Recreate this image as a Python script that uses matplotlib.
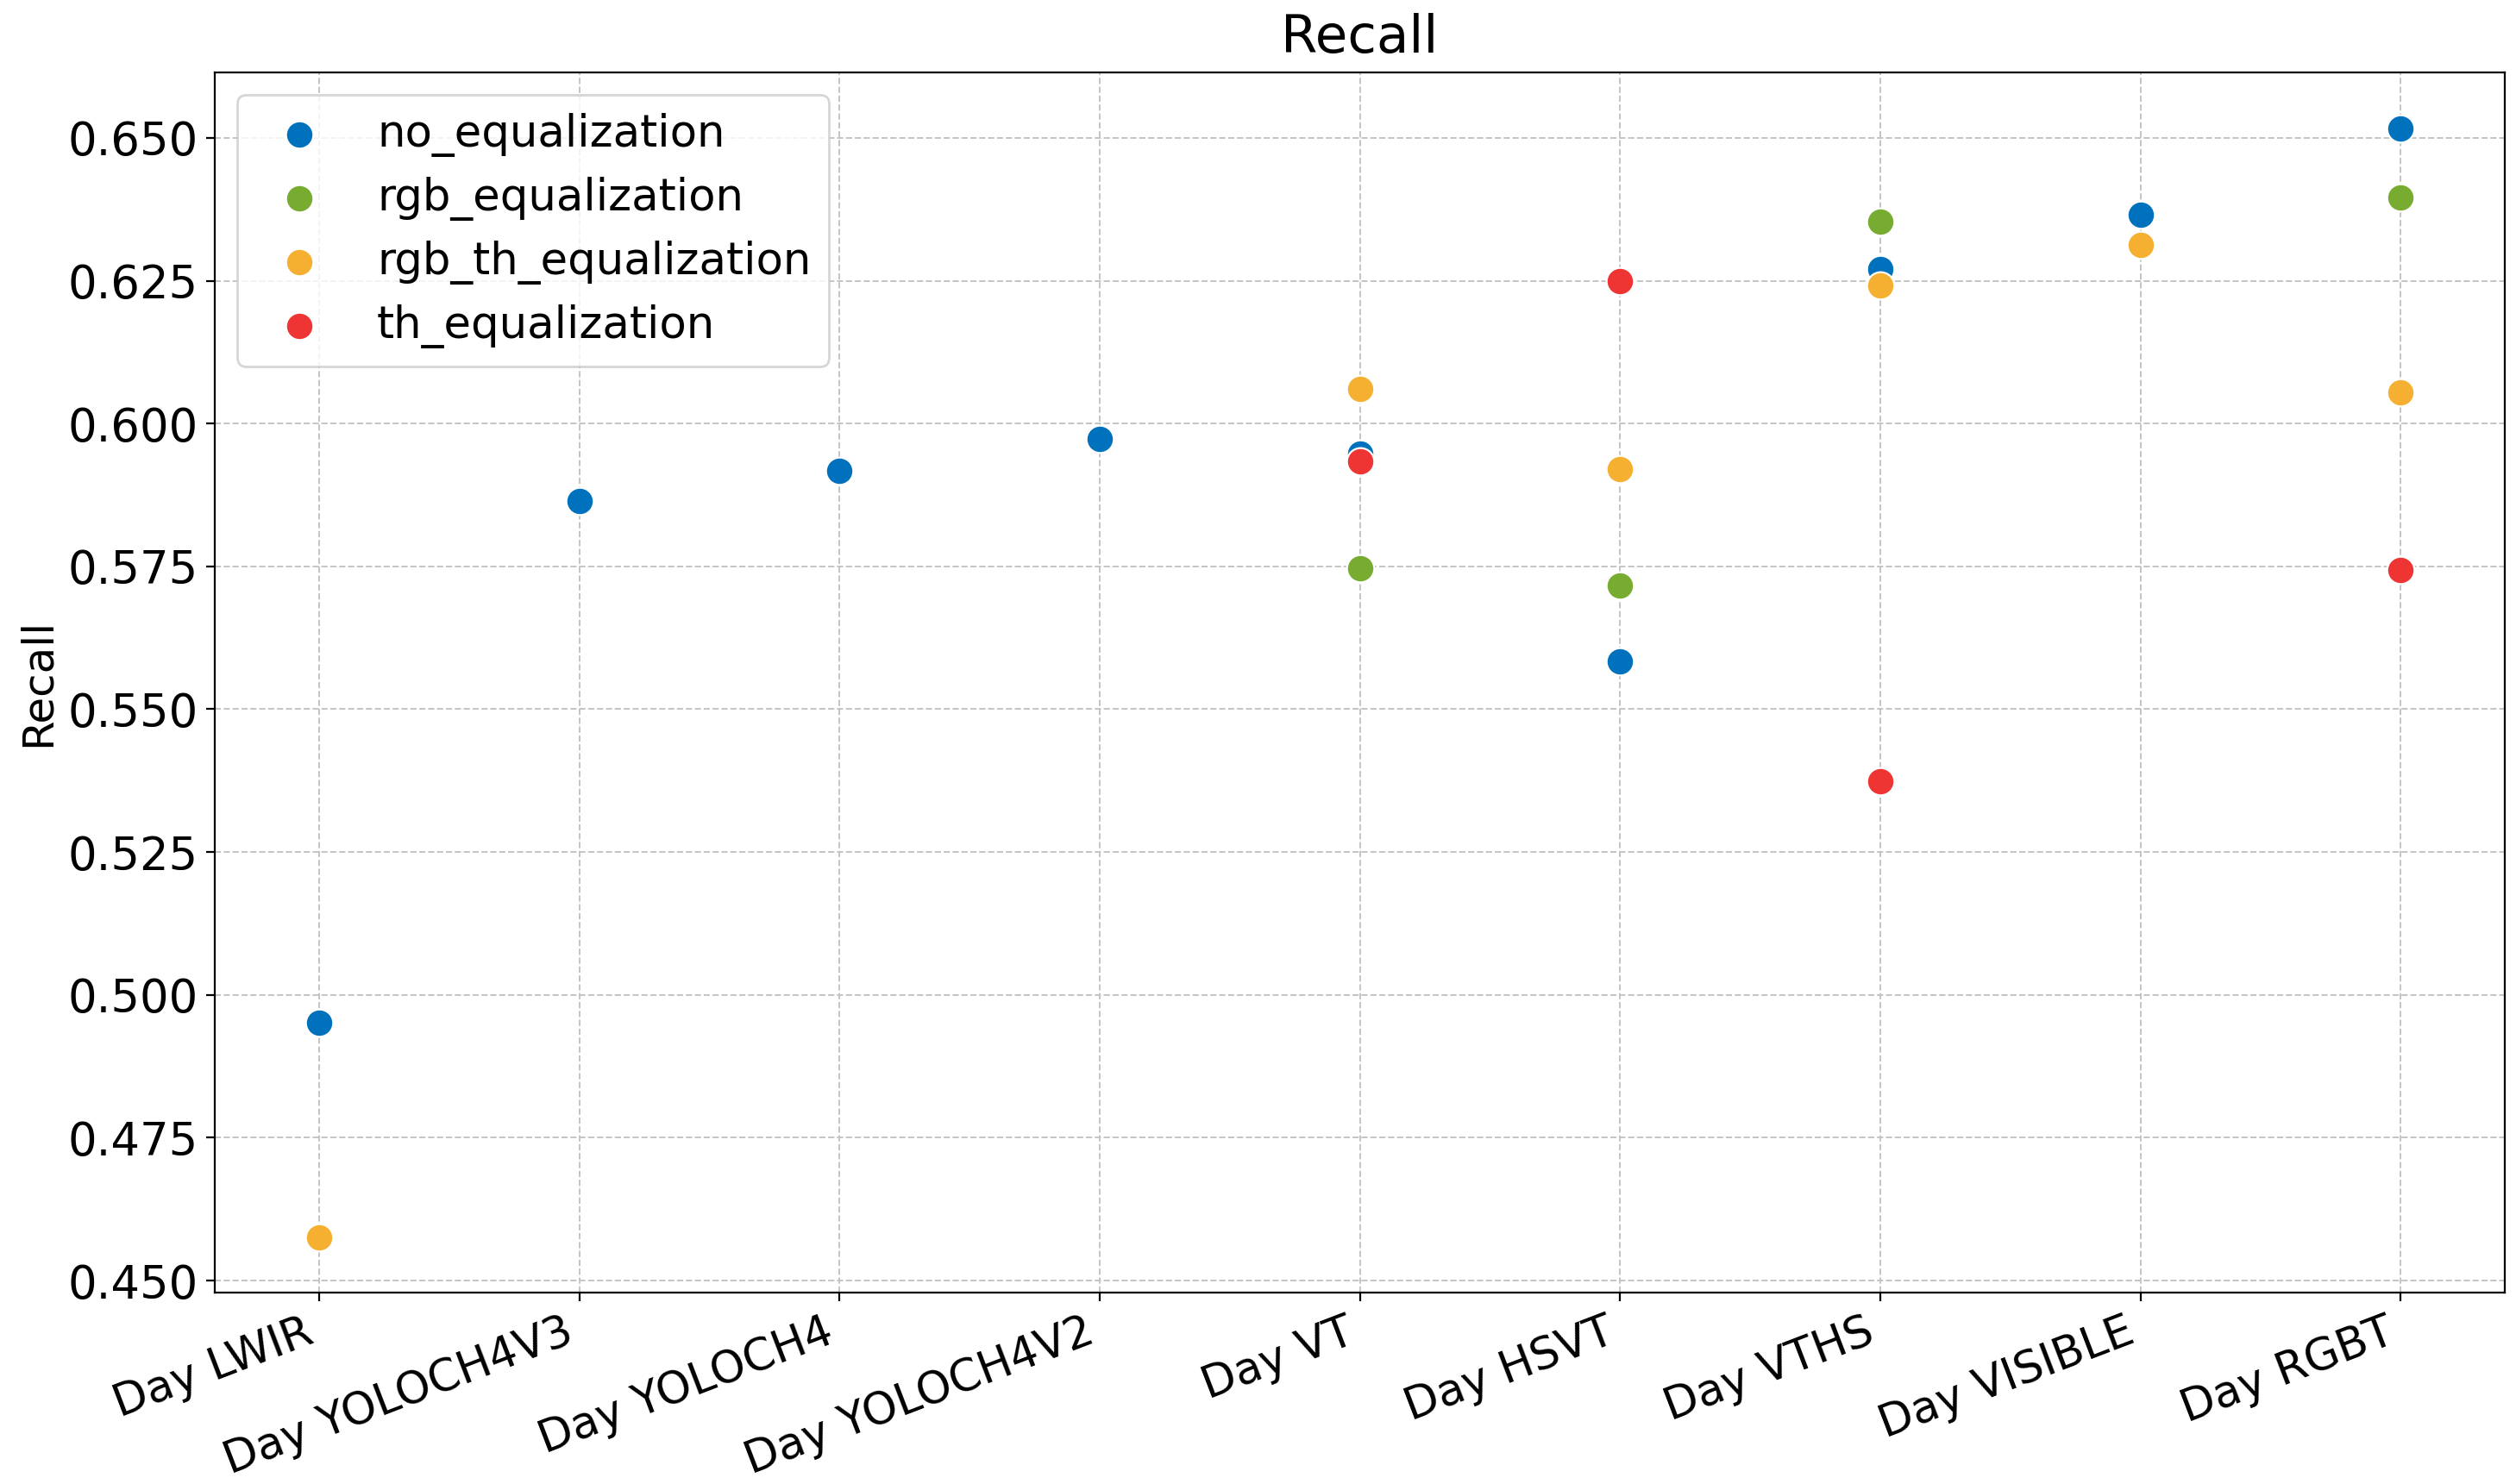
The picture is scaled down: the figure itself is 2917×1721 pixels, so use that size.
import matplotlib
matplotlib.use("Agg")
import matplotlib.pyplot as plt

categories = ["Day LWIR", "Day YOLOCH4V3", "Day YOLOCH4", "Day YOLOCH4V2", "Day VT",
              "Day HSVT", "Day VTHS", "Day VISIBLE", "Day RGBT"]

# (category, recall) per equalization method
no_eq_x = ["Day LWIR", "Day YOLOCH4V3", "Day YOLOCH4", "Day YOLOCH4V2", "Day VT",
           "Day HSVT", "Day VTHS", "Day VISIBLE", "Day RGBT"]
no_eq_y = [0.4951, 0.5864, 0.5917, 0.5973, 0.5948, 0.5584, 0.6270, 0.6366, 0.6517]

rgb_eq_x = ["Day VT", "Day HSVT", "Day VTHS", "Day RGBT"]
rgb_eq_y = [0.5746, 0.5716, 0.6354, 0.6396]

rgb_th_eq_x = ["Day LWIR", "Day VT", "Day HSVT", "Day VTHS", "Day VISIBLE", "Day RGBT"]
rgb_th_eq_y = [0.4576, 0.6060, 0.5920, 0.6242, 0.6312, 0.6055]

th_eq_x = ["Day VT", "Day HSVT", "Day VTHS", "Day RGBT"]
th_eq_y = [0.5934, 0.6250, 0.5374, 0.5744]

series = [
    ("no_equalization", no_eq_x, no_eq_y, "#0072BD"),
    ("rgb_equalization", rgb_eq_x, rgb_eq_y, "#77AC30"),
    ("rgb_th_equalization", rgb_th_eq_x, rgb_th_eq_y, "#F5B031"),
    ("th_equalization", th_eq_x, th_eq_y, "#EF3434"),
]

fig, ax = plt.subplots(figsize=(14.585, 8.605), dpi=200)
fig.subplots_adjust(left=0.0855, right=0.9955, top=0.951, bottom=0.129)

pos = {c: i for i, c in enumerate(categories)}
for name, xs, ys, col in series:
    ax.scatter([pos[c] for c in xs], ys, s=130, color=col, edgecolor="white",
               linewidth=0.8, label=name, zorder=3)

ax.set_xticks(range(len(categories)))
ax.set_xticklabels(categories, rotation=21, ha="right", fontsize=18.5)
ax.tick_params(axis="x", pad=4)
ax.tick_params(axis="y", labelsize=19)
ax.yaxis.set_major_formatter(matplotlib.ticker.FormatStrFormatter("%.3f"))
ax.set_ylabel("Recall", fontsize=18)
ax.set_title("Recall", fontsize=22, pad=8.5)
ax.grid(True, linestyle="--", color="#c4c4c4", linewidth=0.7)
ax.set_axisbelow(True)
ax.legend(loc="upper left", fontsize=18.5, borderpad=0.4, labelspacing=0.45,
          handletextpad=0.75)

fig.savefig("out.png", dpi=200)
